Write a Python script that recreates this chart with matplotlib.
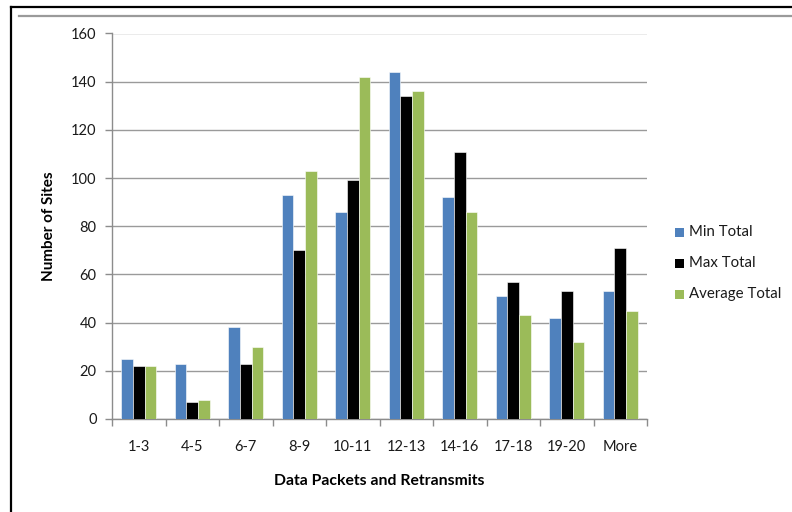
import matplotlib
matplotlib.use("Agg")
import matplotlib.pyplot as plt
import numpy as np
from matplotlib.lines import Line2D
from matplotlib.patches import Rectangle

categories = ["1-3", "4-5", "6-7", "8-9", "10-11", "12-13", "14-16", "17-18", "19-20", "More"]
min_total = [25, 23, 38, 93, 86, 144, 92, 51, 42, 53]
max_total = [22, 7, 23, 70, 99, 134, 111, 57, 53, 71]
avg_total = [22, 8, 30, 103, 142, 136, 86, 43, 32, 45]
series_names = ["Min Total", "Max Total", "Average Total"]
series_colors = ["#4F81BD", "#000000", "#9BBB59"]
y_ticks = [0, 20, 40, 60, 80, 100, 120, 140, 160]

plt.rcParams["font.family"] = ["Lato", "DejaVu Sans"]

fig = plt.figure(figsize=(7.92, 5.12), dpi=100)
ax = fig.add_axes([112 / 792, 1 - 419 / 512, (647 - 112) / 792, (419 - 33.5) / 512])

x = np.arange(len(categories))
bar_w = 0.215
series = [min_total, max_total, avg_total]
for i, (vals, name, col) in enumerate(zip(series, series_names, series_colors)):
    ax.bar(x + (i - 1) * bar_w, vals, width=bar_w, color=col, label=name,
           edgecolor="white", linewidth=0.4, zorder=3)

ax.set_xlim(-0.5, len(categories) - 0.5)
ax.set_ylim(0, 160)
ax.set_yticks(y_ticks)
ax.yaxis.grid(True, color="#9a9a9a", linewidth=1.0, zorder=0)
ax.set_axisbelow(True)

ax.set_xticks(x)
ax.set_xticklabels(categories, fontsize=10.5, color="#1a1a1a")
ax.set_xticks(np.arange(-0.5, len(categories), 1.0), minor=True)
ax.tick_params(axis="x", which="major", length=0, pad=15)
ax.tick_params(axis="x", which="minor", length=5, color="#8c8c8c", width=1.0)
ax.tick_params(axis="y", length=5, color="#8c8c8c", width=1.0, labelsize=10.5,
               labelcolor="#1a1a1a", pad=6)

for side in ["top", "right"]:
    ax.spines[side].set_visible(False)
for side in ["left", "bottom"]:
    ax.spines[side].set_color("#8c8c8c")
    ax.spines[side].set_linewidth(1.0)

fig.text(49 / 792, 1 - 226 / 512, "Number of Sites", fontsize=11, fontweight="bold",
         rotation=90, ha="center", va="center")
fig.text(379.5 / 792, 1 - 481 / 512, "Data Packets and Retransmits", fontsize=11.3,
         fontweight="bold", ha="center", va="center")

# legend entries at the right of the plot area
for j, (name, col) in enumerate(zip(series_names, series_colors)):
    yc = 232 + j * 31
    fig.patches.append(Rectangle((675 / 792, 1 - (yc + 4.5) / 512), 9 / 792, 9 / 512,
                                 transform=fig.transFigure, facecolor=col,
                                 edgecolor="none"))
    fig.text(689 / 792, 1 - yc / 512, name, fontsize=10.8, color="#1a1a1a",
             ha="left", va="center")

# frame lines around the chart
fig.add_artist(Line2D([11 / 792, 11 / 792], [0, 1 - 7 / 512], color="black",
                      linewidth=1.6, transform=fig.transFigure))
fig.add_artist(Line2D([11 / 792, 1], [1 - 7 / 512, 1 - 7 / 512], color="black",
                      linewidth=1.6, transform=fig.transFigure))
fig.add_artist(Line2D([19 / 792, 1], [1 - 15.5 / 512, 1 - 15.5 / 512], color="#9a9a9a",
                      linewidth=1.6, transform=fig.transFigure))

fig.savefig("out.png", dpi=100)
